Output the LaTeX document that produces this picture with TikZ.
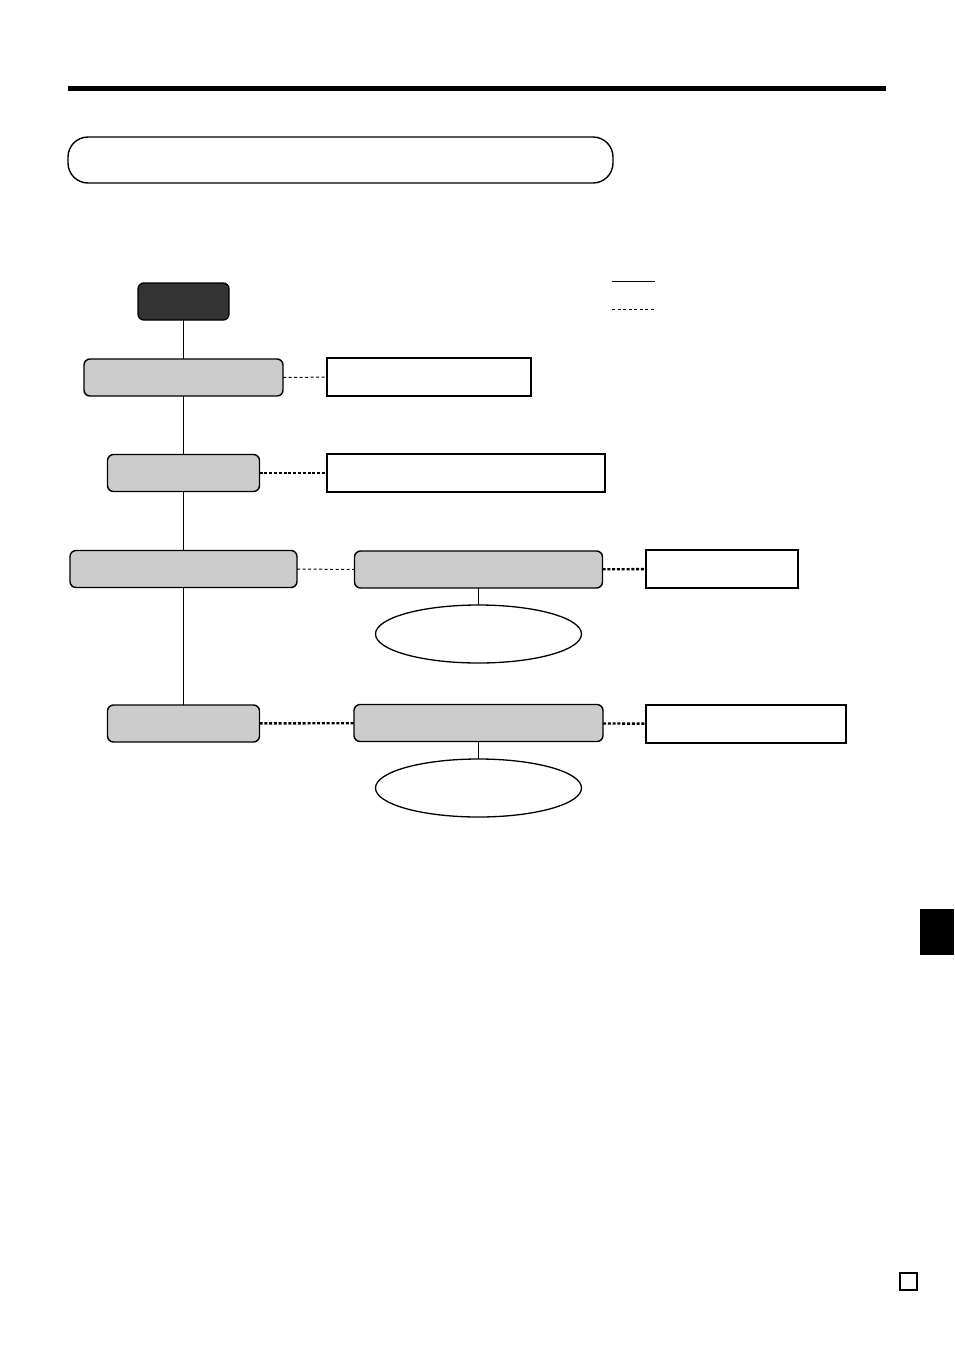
\documentclass[tikz,border=0pt]{standalone}
\usetikzlibrary{shapes.geometric}
\definecolor{blockgray}{HTML}{CCCCCC}
\definecolor{startgray}{HTML}{333333}
\def\pxu{0.75pt}
\tikzset{
  block/.style={draw, rectangle, rounded corners=6*\pxu, line width=1.4*\pxu, inner sep=0, outer sep=0},
  grayblock/.style={block, fill=blockgray},
  startblock/.style={block, fill=startgray},
  outbox/.style={draw, rectangle, line width=1.8*\pxu, fill=white, inner sep=0, outer sep=0},
  oval/.style={draw, ellipse, line width=1.3*\pxu, minimum width=206*\pxu, minimum height=58*\pxu, inner sep=0, outer sep=0},
  trunk/.style={line width=0.9*\pxu},
  thinlink/.style={line width=1*\pxu, dash pattern=on 3*\pxu off 2.5*\pxu},
  thicklink/.style={line width=2.4*\pxu, dash pattern=on 3*\pxu off 1.8*\pxu}
}
\begin{document}
\begin{tikzpicture}[x=0.75pt, y=-0.75pt]
  \useasboundingbox (0,0) rectangle (954,1350);
  % page furniture
  \fill (68,86) rectangle (886,91);
  \draw[line width=1.4*\pxu, rounded corners=20*\pxu] (68,137) rectangle (613,183);
  \fill (920,909) rectangle (954,955);
  \draw[line width=1.2*\pxu] (900,1273) rectangle (917,1290);
  % legend
  \draw[trunk] (612,281) -- (655,281);
  \draw[thinlink] (612,309) -- (655,309);
  % blocks
  \node[startblock, minimum width=91*\pxu, minimum height=37*\pxu] (start) at (183.5,301.5) {};
  \foreach \name/\x/\y/\w in {blkA/183.5/377.5/199, blkB/183.5/473/152, blkC/183.5/569/227,
      blkD/478.5/569.5/248, blkF/183.5/723.5/152, blkG/478.5/723/249}
    \node[grayblock, minimum width=\w*\pxu, minimum height=37*\pxu] (\name) at (\x,\y) {};
  \foreach \name/\x/\y/\w in {boxA/429/377/204, boxB/466/473/278, boxD/722/569/152, boxG/746/724/200}
    \node[outbox, minimum width=\w*\pxu, minimum height=38*\pxu] (\name) at (\x,\y) {};
  \node[oval] (ovD) at (478.5,634) {};
  \node[oval] (ovG) at (478.5,788) {};
  % connectors
  \draw[trunk] (start) -- (blkA) -- (blkB) -- (blkC) -- (blkF);
  \draw[trunk] (blkD) -- (ovD);
  \draw[trunk] (blkG) -- (ovG);
  \draw[thinlink] (blkA) -- (boxA);
  \draw[thinlink] (blkC) -- (blkD);
  \draw[thicklink] (blkB) -- (boxB);
  \draw[thicklink] (blkD) -- (boxD);
  \draw[thicklink] (blkF) -- (blkG);
  \draw[thicklink] (blkG) -- (boxG);
\end{tikzpicture}
\end{document}
